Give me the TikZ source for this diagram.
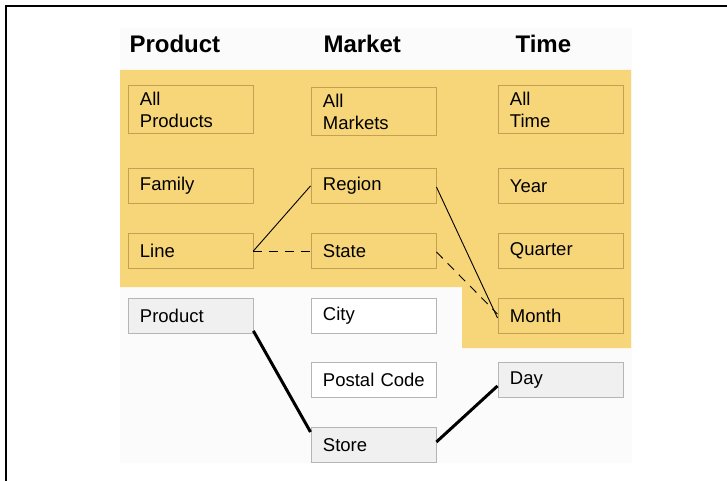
\documentclass[tikz,border=0pt]{standalone}
\usepackage{fontspec}
\setmainfont{Liberation Sans}
\definecolor{ylw}{HTML}{F7D67A}
\definecolor{ylwedge}{HTML}{C4A152}
\definecolor{gryfill}{HTML}{F0F0F0}
\definecolor{gryedge}{HTML}{B5B5B5}
\definecolor{bgfaint}{HTML}{FBFBFB}
\begin{document}
\begin{tikzpicture}[x=1pt,y=-1pt,
  box/.style={draw, rectangle, anchor=north west, minimum width=125pt, minimum height=35pt,
    text width=101pt, inner xsep=12pt, inner ysep=0pt, align=left, line width=0.9pt,
    font=\fontsize{18.5}{22}\selectfont},
  ybox/.style={box, draw=ylwedge, fill=ylw},
  wbox/.style={box, draw=gryedge, fill=white},
  gbox/.style={box, draw=gryedge, fill=gryfill},
  head/.style={font=\fontsize{24}{28}\selectfont\bfseries, anchor=base west},
  thin/.style={line width=0.9pt},
  thick/.style={line width=3pt}]
\useasboundingbox (0,0) rectangle (727,481);
\fill[white] (0,0) rectangle (727,481);
\draw[line width=1.5pt] (6,481) -- (6,6) -- (727,6);
% faint background
\fill[bgfaint] (120,28) rectangle (632,463);
% yellow region
\fill[ylw] (120,70) -- (631,70) -- (631,348) -- (462,348) -- (462,287) -- (120,287) -- cycle;
% headers
\node[head] (hp) at (126,53) {Product};
\node[head] (hm) at (320,53) {Market};
\node[head] (ht) at (512,53) {Time};
% column 1
\node[ybox, minimum height=48pt] (allp) at (127.5,85) {All\\Products};
\node[ybox] (fam) at (127.5,168) {Family};
\node[ybox] (line) at (127.5,233) {Line};
\node[gbox] (prod) at (127.5,298) {Product};
% column 2
\node[ybox, minimum height=48pt] (allm) at (310.5,87) {All\\Markets};
\node[ybox] (reg) at (310.5,168) {Region};
\node[ybox] (state) at (310.5,233) {State};
\node[wbox] (city) at (310.5,298) {City};
\node[wbox] (postal) at (310.5,362) {\mbox{Postal Code}\hss};
\node[gbox] (store) at (310.5,427) {Store};
% column 3
\node[ybox, minimum height=48pt] (allt) at (497.5,85) {All\\Time};
\node[ybox] (year) at (497.5,168) {Year};
\node[ybox] (qtr) at (497.5,233) {Quarter};
\node[ybox] (month) at (497.5,298) {Month};
\node[gbox] (day) at (497.5,362) {Day};
% connectors
\draw[thin] (line.east) -- (reg.west);
\draw[thin, dash pattern=on 9pt off 7pt] (line.east) -- (state.west);
\draw[thin] ([yshift=-1pt]reg.east) -- ([yshift=-2pt]month.west);
\draw[thin, dash pattern=on 9pt off 7pt] ([yshift=-1pt]state.east) -- ([yshift=2pt]month.west);
\draw[thick] ([yshift=3pt]prod.south east) -- ([yshift=-5pt]store.north west);
\draw[thick] ([yshift=3pt]store.east) -- ([yshift=-6pt]day.west);
\end{tikzpicture}
\end{document}
